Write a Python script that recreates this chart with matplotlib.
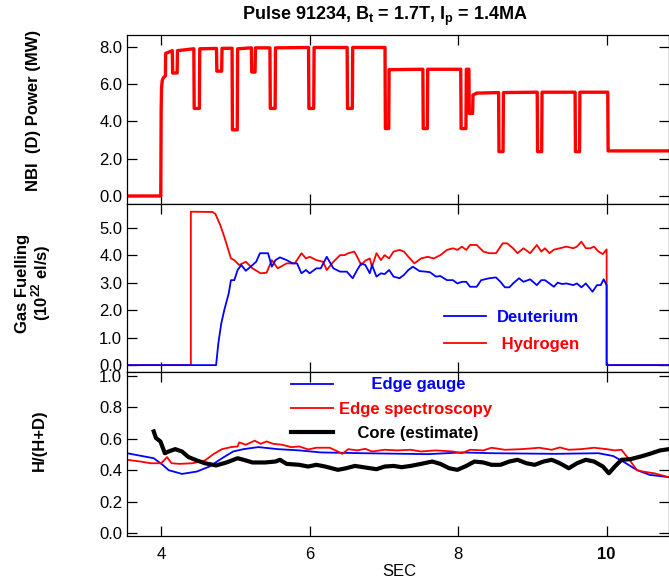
import matplotlib
matplotlib.use("Agg")
from matplotlib import pyplot as plt
from matplotlib.ticker import FormatStrFormatter

plt.rcParams["font.family"] = ["Liberation Sans", "DejaVu Sans"]
plt.rcParams["mathtext.fontset"] = "custom"
plt.rcParams["mathtext.rm"] = "Liberation Sans"
plt.rcParams["mathtext.bf"] = "Liberation Sans:bold"

# NBI (D) power, MW
nbi_t = [3.54, 3.995, 4.0, 4.005, 4.015, 4.03, 4.058, 4.06, 4.15, 4.155, 4.215, 4.22,
         4.44, 4.445, 4.515, 4.52, 4.745, 4.75, 4.815, 4.82, 4.955, 4.96, 5.025, 5.03,
         5.215, 5.22, 5.265, 5.27, 5.465, 5.47, 5.535, 5.54, 5.985, 5.99, 6.055, 6.06,
         6.505, 6.51, 6.575, 6.58, 7.015, 7.02, 7.065, 7.07, 7.525, 7.53, 7.585, 7.59,
         8.035, 8.04, 8.105, 8.11, 8.145, 8.15, 8.195, 8.20, 8.25, 8.545, 8.55, 8.605,
         8.61, 9.065, 9.07, 9.125, 9.13, 9.575, 9.58, 9.635, 9.64, 10.015, 10.02, 10.84]
nbi_p = [0.0, 0.0, 4.6, 5.8, 6.2, 6.35, 6.45, 7.65, 7.8, 6.6, 6.6, 7.8,
         7.9, 4.7, 4.7, 7.9, 7.92, 6.7, 6.7, 7.92, 7.93, 3.55, 3.55, 7.9,
         7.95, 6.65, 6.65, 7.95, 7.95, 4.7, 4.7, 7.95, 7.97, 4.7, 4.7, 7.97,
         7.97, 4.7, 4.7, 7.97, 7.97, 3.62, 3.62, 6.78, 6.8, 3.62, 3.62, 6.8,
         6.8, 3.62, 3.62, 6.8, 6.8, 4.43, 4.43, 5.42, 5.52, 5.55, 2.38, 2.38,
         5.55, 5.57, 2.38, 2.38, 5.57, 5.57, 2.38, 2.38, 5.57, 5.57, 2.42, 2.42]

# gas fuelling, 1e22 el/s
h2_t = [3.54, 4.40, 4.40, 4.69, 4.73, 4.795, 4.85, 4.94, 4.985, 5.05, 5.14, 5.23, 5.34,
        5.42, 5.49, 5.57, 5.69, 5.80, 5.89, 5.95, 6.00, 6.09, 6.18, 6.23, 6.32, 6.41,
        6.47, 6.52, 6.60, 6.64, 6.695, 6.75, 6.81, 6.84, 6.90, 6.96, 7.01, 7.07, 7.13,
        7.21, 7.27, 7.33, 7.41, 7.50, 7.59, 7.67, 7.76, 7.85, 7.93, 7.99, 8.05, 8.11,
        8.16, 8.25, 8.34, 8.42, 8.51, 8.60, 8.66, 8.74, 8.80, 8.88, 8.97, 9.06, 9.12,
        9.17, 9.23, 9.29, 9.37, 9.46, 9.55, 9.60, 9.66, 9.72, 9.78, 9.83, 9.89, 9.95,
        10.0, 10.0, 10.84]
h2_v = [0, 0, 5.58, 5.57, 5.5, 5.1, 4.67, 3.88, 3.82, 3.64, 3.76, 3.52, 3.34,
        3.36, 3.82, 3.52, 3.70, 3.70, 4.07, 3.88, 3.94, 3.82, 3.76, 3.46, 3.76, 4.0,
        4.0, 4.07, 4.13, 3.94, 3.64, 3.80, 3.88, 3.58, 4.07, 3.82, 4.0, 3.88, 4.13,
        4.19, 4.13, 3.94, 3.70, 3.88, 3.94, 3.88, 4.0, 4.19, 4.25, 4.19, 4.31, 4.19,
        4.37, 4.37, 4.13, 4.07, 4.07, 4.43, 4.43, 4.25, 4.07, 4.25, 4.07, 4.37, 4.13,
        4.25, 4.07, 4.20, 4.25, 4.31, 4.25, 4.31, 4.49, 4.25, 4.25, 4.31, 4.13, 4.04,
        4.21, 0, 0]
d2_t = [3.54, 4.74, 4.77, 4.81, 4.85, 4.91, 4.94, 4.985, 5.03, 5.08, 5.14, 5.23, 5.28,
        5.33, 5.40, 5.44, 5.49, 5.54, 5.60, 5.69, 5.77, 5.83, 5.89, 5.95, 6.00, 6.09,
        6.15, 6.23, 6.32, 6.41, 6.50, 6.58, 6.64, 6.695, 6.75, 6.81, 6.84, 6.90, 6.96,
        7.01, 7.07, 7.13, 7.21, 7.27, 7.33, 7.39, 7.48, 7.56, 7.62, 7.70, 7.76, 7.85,
        7.93, 7.99, 8.05, 8.11, 8.16, 8.25, 8.31, 8.42, 8.51, 8.57, 8.63, 8.69, 8.74,
        8.82, 8.88, 8.97, 9.06, 9.12, 9.17, 9.23, 9.29, 9.34, 9.40, 9.46, 9.55, 9.60,
        9.66, 9.72, 9.81, 9.87, 9.92, 9.96, 10.0, 10.0, 10.84]
d2_v = [0, 0, 0.79, 1.52, 2.0, 2.61, 3.09, 3.09, 3.46, 3.64, 3.43, 3.64, 3.76,
        4.07, 4.07, 4.07, 3.58, 3.82, 3.92, 3.82, 3.70, 3.70, 3.34, 3.46, 3.34, 3.52,
        3.52, 3.94, 3.52, 3.40, 3.40, 3.16, 3.46, 3.70, 3.64, 3.34, 3.64, 3.22, 3.34,
        3.31, 3.46, 3.22, 3.16, 3.28, 3.46, 3.58, 3.42, 3.40, 3.38, 3.22, 3.24, 3.09,
        3.09, 2.97, 3.03, 3.03, 2.85, 2.85, 3.09, 3.16, 3.19, 3.03, 2.83, 2.83, 2.97,
        3.16, 3.03, 3.12, 2.91, 3.09, 3.09, 2.97, 2.85, 3.0, 2.95, 2.97, 2.91, 2.97,
        2.83, 2.97, 2.67, 2.91, 2.91, 3.12, 2.91, 0, 0]

# isotope ratio H/(H+D)
gauge_t = [3.54, 3.90, 4.02, 4.10, 4.28, 4.48, 4.65, 4.82, 4.97, 5.11, 5.31, 5.57, 5.86,
           6.15, 6.72, 7.59, 8.05, 8.45, 9.31, 9.89, 10.09, 10.26, 10.41, 10.58, 10.84]
gauge_v = [0.508, 0.476, 0.434, 0.40, 0.376, 0.391, 0.423, 0.476, 0.519, 0.534, 0.547,
           0.534, 0.526, 0.513, 0.508, 0.502, 0.513, 0.508, 0.504, 0.508, 0.49, 0.444,
           0.40, 0.37, 0.355]
spec_t = [3.54, 3.72, 3.86, 4.0, 4.08, 4.14, 4.25, 4.42, 4.59, 4.71, 4.82, 4.94, 5.03,
          5.05, 5.14, 5.26, 5.34, 5.42, 5.51, 5.63, 5.75, 5.86, 5.98, 6.09, 6.27, 6.38,
          6.44, 6.52, 6.64, 6.75, 6.84, 7.01, 7.18, 7.36, 7.50, 7.70, 7.93, 8.05, 8.16,
          8.34, 8.45, 8.63, 8.86, 9.09, 9.26, 9.37, 9.49, 9.66, 9.83, 10.0, 10.11, 10.2,
          10.29, 10.41, 10.49, 10.64, 10.84]
spec_v = [0.466, 0.455, 0.444, 0.444, 0.483, 0.444, 0.44, 0.444, 0.462, 0.504, 0.534,
          0.547, 0.551, 0.577, 0.562, 0.588, 0.568, 0.583, 0.568, 0.562, 0.547, 0.551,
          0.532, 0.543, 0.543, 0.519, 0.504, 0.534, 0.526, 0.536, 0.519, 0.53, 0.526,
          0.53, 0.519, 0.526, 0.519, 0.508, 0.53, 0.526, 0.543, 0.53, 0.534, 0.543,
          0.53, 0.545, 0.53, 0.534, 0.543, 0.534, 0.526, 0.53, 0.476, 0.40, 0.391,
          0.38, 0.355]
core_t = [3.90, 3.93, 3.99, 4.05, 4.10, 4.19, 4.28, 4.37, 4.48, 4.59, 4.74, 4.88, 5.03,
          5.11, 5.23, 5.40, 5.54, 5.60, 5.69, 5.86, 5.98, 6.09, 6.21, 6.38, 6.49, 6.61,
          6.72, 6.90, 7.01, 7.13, 7.24, 7.36, 7.50, 7.65, 7.76, 7.88, 7.99, 8.11, 8.22,
          8.34, 8.45, 8.57, 8.69, 8.80, 8.92, 9.03, 9.15, 9.26, 9.37, 9.49, 9.60, 9.72,
          9.83, 9.95, 10.03, 10.11, 10.20, 10.32, 10.46, 10.58, 10.72, 10.84]
core_v = [0.647, 0.605, 0.583, 0.508, 0.519, 0.534, 0.519, 0.483, 0.462, 0.444, 0.43,
          0.449, 0.476, 0.466, 0.449, 0.449, 0.455, 0.466, 0.44, 0.434, 0.423, 0.434,
          0.423, 0.402, 0.412, 0.427, 0.419, 0.406, 0.423, 0.427, 0.419, 0.427, 0.44,
          0.455, 0.44, 0.412, 0.402, 0.427, 0.455, 0.449, 0.434, 0.434, 0.455, 0.466,
          0.444, 0.434, 0.455, 0.466, 0.444, 0.412, 0.444, 0.466, 0.455, 0.423, 0.38,
          0.423, 0.466, 0.47, 0.487, 0.504, 0.526, 0.534]

xticks = [4, 6, 8, 10]

fig = plt.figure(figsize=(6.69, 5.81), dpi=100)
W, H = 669.0, 581.0
left, right = 127 / W, 1.0


def make_axes(top_px, bot_px):
    return fig.add_axes([left, 1 - bot_px / H, right - left, (bot_px - top_px) / H])


ax1 = make_axes(35, 204)
ax2 = make_axes(204, 372)
ax3 = make_axes(372, 536)

# panel 1
ax1.plot(nbi_t, nbi_p, color="red", lw=2.4)
ax1.set_ylim(-0.43, 8.64)
ax1.set_yticks([0, 2, 4, 6, 8])

# panel 2
ax2.plot(h2_t, h2_v, color="red", lw=1.3, label=" Hydrogen")
ax2.plot(d2_t, d2_v, color="blue", lw=1.3, label="Deuterium")
ax2.set_ylim(-0.25, 5.86)
ax2.set_yticks([0, 1, 2, 3, 4, 5])
h, l = ax2.get_legend_handles_labels()
ax2.legend(h[::-1], l[::-1], loc="center left", bbox_to_anchor=(0.585, 0.245),
           frameon=False, borderpad=0, borderaxespad=0, handlelength=2.5,
           handletextpad=0.65, labelspacing=0.7, labelcolor="linecolor",
           prop={"weight": "bold", "size": 12})

# panel 3 (labels padded so they sit centred like the original)
ax3.plot(gauge_t, gauge_v, color="blue", lw=1.3, label="       Edge gauge")
ax3.plot(spec_t, spec_v, color="red", lw=1.3, label="Edge spectroscopy")
ax3.plot(core_t, core_v, color="black", lw=3, label="    Core (estimate)")
ax3.set_ylim(-0.02, 1.026)
ax3.set_yticks([0, 0.2, 0.4, 0.6, 0.8, 1.0])
ax3.legend(loc="center left", bbox_to_anchor=(0.3026, 0.774),
           frameon=False, borderpad=0, borderaxespad=0, handlelength=2.5,
           handletextpad=0.4, labelspacing=0.55, labelcolor="linecolor",
           prop={"weight": "bold", "size": 12})

for ax in (ax1, ax2, ax3):
    ax.set_xlim(3.54, 10.84)
    ax.set_xticks(xticks)
    ax.yaxis.set_major_formatter(FormatStrFormatter("%.1f"))
    ax.tick_params(direction="in", top=True, right=True, length=7, width=0.9,
                   labelsize=12, pad=3.5)
    ax.tick_params(axis="x", pad=8)
    for s in ax.spines.values():
        s.set_linewidth(0.9)

ax1.tick_params(labelbottom=False)
ax2.tick_params(labelbottom=False)
ax3.set_xticklabels([str(v) for v in xticks])
ax3.get_xticklabels()[-1].set_fontweight("bold")

fig.text(385 / W, 1 - 16 / H,
         r"Pulse 91234, B$_\mathbf{t}$ = 1.7T, I$_\mathbf{p}$ = 1.4MA",
         ha="center", va="center", fontsize=13, fontweight="bold")
fig.text(34 / W, 1 - 110 / H, "NBI  (D) Power (MW)", rotation=90,
         ha="center", va="center", fontsize=12, fontweight="bold")
fig.text(34 / W, 1 - 283 / H, "Gas Fuelling\n(10$^\\mathbf{22}$ el/s)", rotation=90,
         ha="center", va="center", fontsize=12, fontweight="bold",
         multialignment="center", linespacing=1.0)
fig.text(39 / W, 1 - 440 / H, "H/(H+D)", rotation=90,
         ha="center", va="center", fontsize=12, fontweight="bold")
fig.text(399 / W, 1 - 572 / H, "SEC", ha="center", va="center", fontsize=12)

fig.savefig("out.png", dpi=100)
